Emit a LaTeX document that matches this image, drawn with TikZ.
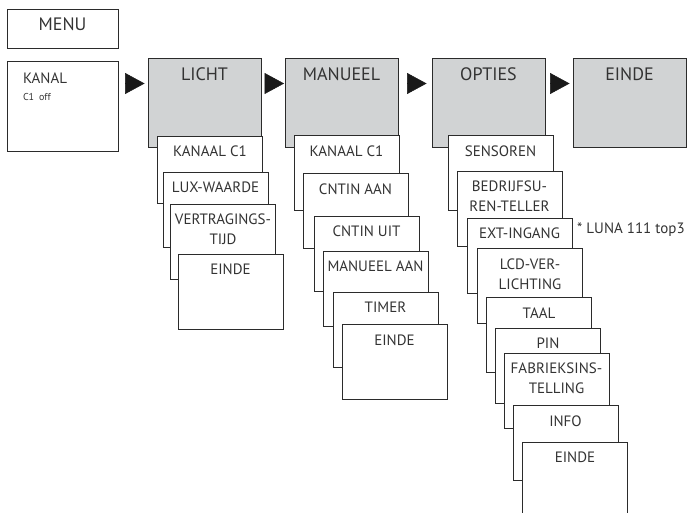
\documentclass[tikz,border=0pt]{standalone}
\usepackage{fontspec}
\setmainfont{PT Sans}
\usepackage{tikz}
\usetikzlibrary{arrows.meta}
\definecolor{panel}{HTML}{D1D3D4}
\definecolor{frame}{HTML}{2B2B2B}
\definecolor{ink}{HTML}{333333}

\begin{document}
\begin{tikzpicture}[
  box/.style={draw=frame,line width=0.9bp,text=ink,align=center,inner xsep=2bp},
  topbox/.style={box,fill=panel,minimum width=113bp,inner ysep=10bp,text height=12.6bp,text depth=56.4bp,font=\fontsize{18bp}{20bp}\selectfont},
  subbox/.style={box,fill=white,minimum width=105bp,inner ysep=10bp,text height=10.5bp,text depth=44.5bp,font=\fontsize{15bp}{20bp}\selectfont},
  twoline/.style={subbox,text height=30.5bp,text depth=24.5bp},
  tri/.style={-{Triangle[length=19.5bp,width=21bp]},line width=0.5bp,draw=black!90}
]
\path[use as bounding box,clip] (0bp,0bp) rectangle (689bp,-513bp);

\node (MENU) at (62.5bp,-28.5bp)[box,minimum width=111bp,inner ysep=9bp,text height=12.6bp,text depth=8.4bp,font=\fontsize{18bp}{20bp}\selectfont] {MENU};
\node (KANAL) at (62.5bp,-106bp)[box,align=left,text width=79bp,inner xsep=16bp,inner ysep=12bp,text height=10.5bp,text depth=55.5bp,font=\fontsize{15bp}{17bp}\selectfont] {KANAL\\{\fontsize{10bp}{12bp}\selectfont C1\hspace{5bp}off}};

\node (LICHT) at (204.5bp,-102.5bp)[topbox] {LICHT};
\node (MANUEEL) at (341.5bp,-102.5bp)[topbox] {MANUEEL};
\node (OPTIES) at (488.5bp,-102.5bp)[topbox] {OPTIES};
\node (EINDE) at (629.5bp,-102.5bp)[topbox] {EINDE};

\node (L1) at (210bp,-169.5bp)[subbox,text depth=36.5bp] {KANAAL C1};
\node (L2) at (215.5bp,-209.5bp)[subbox] {LUX-WAARDE};
\node (L3) at (223bp,-241.5bp)[twoline] {VERTRAGINGS-\\TIJD};
\node (L4) at (230.5bp,-291.5bp)[subbox] {EINDE};

\node (M1) at (346.5bp,-173bp)[subbox] {KANAAL C1};
\node (M2) at (355.5bp,-211bp)[subbox] {CNTIN AAN};
\node (M3) at (366.5bp,-253.5bp)[subbox] {CNTIN UIT};
\node (M4) at (375.5bp,-288.5bp)[subbox] {MANUEEL AAN};
\node (M5) at (385.5bp,-329.5bp)[subbox] {TIMER};
\node (M6) at (394.5bp,-362bp)[subbox] {EINDE};

\node (O1) at (500.5bp,-173bp)[subbox] {SENSOREN};
\node (O2) at (509.5bp,-208.5bp)[twoline] {BEDRIJFSU-\\REN-TELLER};
\node (O3) at (519.5bp,-255.5bp)[subbox] {EXT-INGANG};
\node (O4) at (530bp,-286bp)[twoline] {LCD-VER-\\LICHTING};
\node (O5) at (539bp,-335bp)[subbox] {TAAL};
\node (O6) at (548bp,-365.5bp)[subbox] {PIN};
\node (O7) at (556.5bp,-390.5bp)[twoline] {FABRIEKSINS-\\TELLING};
\node (O8) at (565.5bp,-443bp)[subbox] {INFO};
\node (O9) at (575bp,-487.5bp)[subbox,text depth=60.5bp] {EINDE};

\node (note) at (577bp,-233bp)[anchor=base west,text=ink,inner sep=0pt,font=\fontsize{15bp}{18bp}\selectfont] {* LUNA 111 top3};

\draw [tri,shorten <=8bp,shorten >=3bp] ([yshift=19bp]KANAL.east |- LICHT.west) -- ([yshift=19bp]LICHT.west);
\draw [tri,shorten <=7bp,shorten >=0.5bp] ([yshift=19bp]LICHT.east) -- ([yshift=19bp]MANUEEL.west);
\draw [tri,shorten <=10bp,shorten >=5bp] ([yshift=19bp]MANUEEL.east) -- ([yshift=19bp]OPTIES.west);
\draw [tri,shorten <=7bp,shorten >=3bp] ([yshift=19bp]OPTIES.east) -- ([yshift=19bp]EINDE.west);
\end{tikzpicture}
\end{document}
